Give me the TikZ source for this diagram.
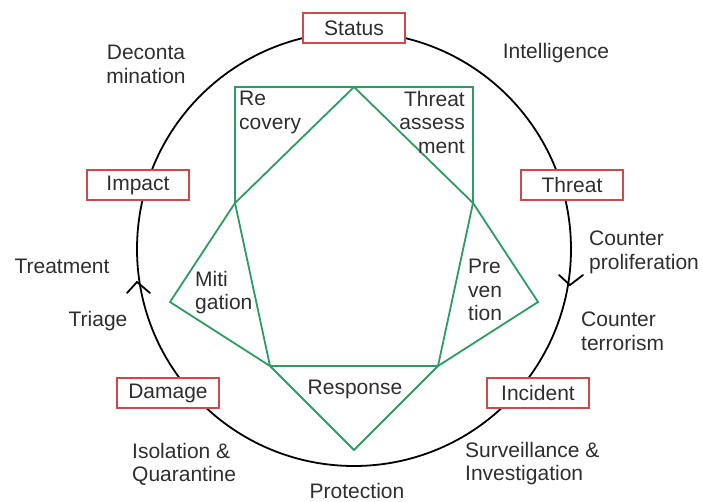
\documentclass[tikz,border=0pt]{standalone}
\usepackage{fontspec}
\setmainfont{Liberation Sans}
\definecolor{grn}{HTML}{2E9A64}
\definecolor{boxred}{HTML}{CC4A4A}
\definecolor{txt}{HTML}{2E2E2E}
\begin{document}
\begin{tikzpicture}[x=1pt,y=-1pt,
  lbl/.style={font=\fontsize{21}{23.5}\selectfont, text=txt, inner sep=0pt},
  box/.style={draw=boxred, line width=1.6pt, fill=white, minimum width=102pt,
    minimum height=30pt, inner sep=0pt, font=\fontsize{21}{24}\selectfont, text=txt},
  gline/.style={draw=grn, line width=1.8pt, line join=miter},
  cyc/.style={draw=black, line width=1.8pt},
  tipline/.style={draw=black, line width=1.8pt, line cap=round, line join=miter}]
\useasboundingbox (0,0) rectangle (703,502);

% cycle circle
\coordinate (O) at (354,249);
\draw[cyc] (O) circle[radius=217pt];
\coordinate (la) at (137,282);
\coordinate (ra) at (570,285);
\draw[tipline] (la) ++(-10,11) -- (la) -- ++(13,11);
\draw[tipline] (ra) ++(-11,-10) -- (ra) -- ++(13,-10);

% green pentagon figure
\coordinate (A) at (354,87);
\coordinate (B) at (473,203);
\coordinate (C) at (438,366);
\coordinate (D) at (270,366);
\coordinate (E) at (235,203);
\coordinate (RL) at (235,87);
\coordinate (RR) at (473,87);
\coordinate (PV) at (538,302);
\coordinate (RS) at (354,450);
\coordinate (MT) at (170,302);
\draw[gline] (A) -- (B) -- (C) -- (D) -- (E) -- cycle;
\draw[gline] (E) -- (RL) -- (RR) -- (B);
\draw[gline] (B) -- (PV) -- (C);
\draw[gline] (C) -- (RS) -- (D);
\draw[gline] (D) -- (MT) -- (E);

% boxes on the cycle
\node[box] (status) at (354,28) {Status};
\node[box] (threat) at (572,185) {Threat};
\node[box] (incident) at (538,393) {Incident};
\node[box] (damage) at (168,393) {Damage};
\node[box] (impact) at (138,185) {Impact};

% outer labels
\node[lbl, anchor=north, align=center] (decon) at (146,45) {Deconta\\mination};
\node[lbl, anchor=base] (intel) at (556,59) {Intelligence};
\node[lbl, anchor=base] (treat) at (62,273) {Treatment};
\node[lbl, anchor=base] (triage) at (98,326) {Triage};
\node[lbl, anchor=north west, align=left] (cprol) at (589,231) {Counter\\proliferation};
\node[lbl, anchor=north west, align=left] (cterr) at (581,312) {Counter\\terrorism};
\node[lbl, anchor=north west, align=left] (isol) at (132,443) {Isolation \&\\Quarantine};
\node[lbl, anchor=north west, align=left] (surv) at (465,442) {Surveillance \&\\Investigation};
\node[lbl, anchor=base] (prot) at (357,498) {Protection};

% inner labels
\node[lbl, anchor=base] (resp) at (355,394) {Response};
\node[lbl, anchor=north west, align=left] (recov) at (239,91) {Re\\covery};
\node[lbl, anchor=north east, align=right] (tass) at (465,91) {Threat\\assess\\ment};
\node[lbl, anchor=north west, align=left] (miti) at (195,271) {Miti\\gation};
\node[lbl, anchor=north west, align=left] (prev) at (468,259) {Pre\\ven\\tion};
\end{tikzpicture}
\end{document}
